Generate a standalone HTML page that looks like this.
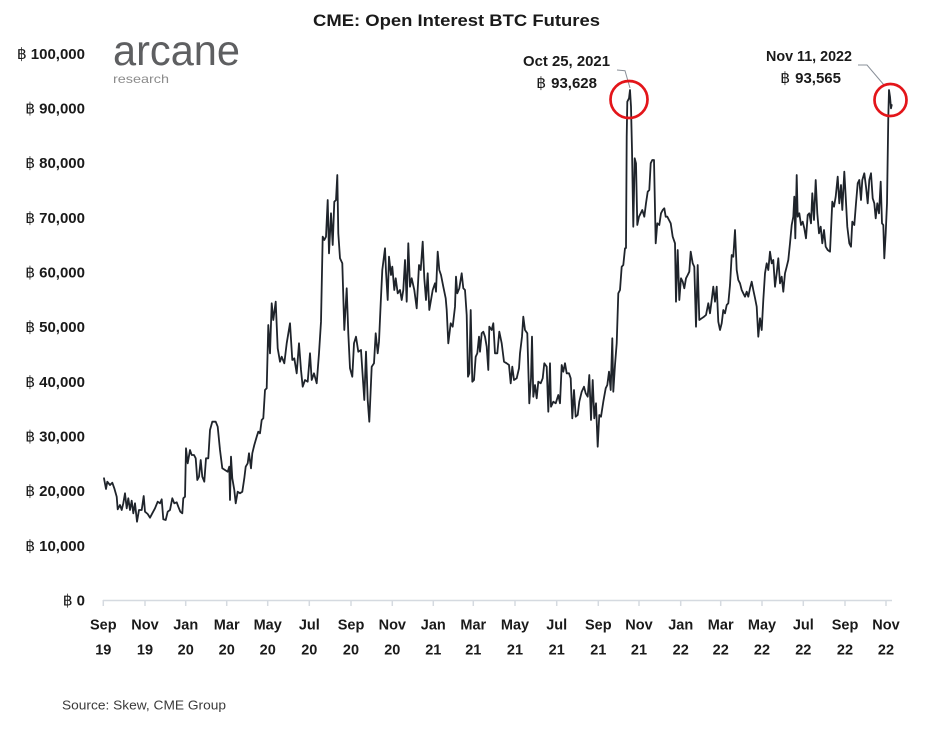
<!DOCTYPE html>
<html>
<head>
<meta charset="utf-8">
<style>
html,body{margin:0;padding:0;background:#fff;}
svg{display:block;}
text{font-family:"Liberation Sans","DejaVu Sans",sans-serif;}
</style>
</head>
<body>
<svg width="936" height="730" viewBox="0 0 936 730" xmlns="http://www.w3.org/2000/svg">
<rect width="936" height="730" fill="#fff"/>

<!-- Title -->
<text x="313" y="26" font-size="17" font-weight="bold" fill="#1a1a1a" textLength="287" lengthAdjust="spacingAndGlyphs">CME: Open Interest BTC Futures</text>

<!-- Logo -->
<text x="113" y="65" font-size="43" fill="#5e5f61" textLength="127" lengthAdjust="spacingAndGlyphs">arcane</text>
<text x="113" y="83" font-size="12" fill="#8c8c8c" textLength="56" lengthAdjust="spacingAndGlyphs">research</text>

<!-- Y axis labels -->
<g font-size="15" font-weight="bold" fill="#1a1a1a" text-anchor="end">
<text x="85" y="58.8"><tspan font-weight="normal" font-size="15.5">฿</tspan><tspan dx="4">100,000</tspan></text>
<text x="85" y="113.5"><tspan font-weight="normal" font-size="15.5">฿</tspan><tspan dx="4">90,000</tspan></text>
<text x="85" y="168.2"><tspan font-weight="normal" font-size="15.5">฿</tspan><tspan dx="4">80,000</tspan></text>
<text x="85" y="222.8"><tspan font-weight="normal" font-size="15.5">฿</tspan><tspan dx="4">70,000</tspan></text>
<text x="85" y="277.5"><tspan font-weight="normal" font-size="15.5">฿</tspan><tspan dx="4">60,000</tspan></text>
<text x="85" y="332.2"><tspan font-weight="normal" font-size="15.5">฿</tspan><tspan dx="4">50,000</tspan></text>
<text x="85" y="386.8"><tspan font-weight="normal" font-size="15.5">฿</tspan><tspan dx="4">40,000</tspan></text>
<text x="85" y="441.5"><tspan font-weight="normal" font-size="15.5">฿</tspan><tspan dx="4">30,000</tspan></text>
<text x="85" y="496.2"><tspan font-weight="normal" font-size="15.5">฿</tspan><tspan dx="4">20,000</tspan></text>
<text x="85" y="550.8"><tspan font-weight="normal" font-size="15.5">฿</tspan><tspan dx="4">10,000</tspan></text>
<text x="85" y="605.5"><tspan font-weight="normal" font-size="15.5">฿</tspan><tspan dx="4">0</tspan></text>
</g>

<!-- X axis -->
<line x1="103" y1="600.5" x2="892" y2="600.5" stroke="#d5dae0" stroke-width="1.5"/>
<g stroke="#d5dae0" stroke-width="1.5">
<line x1="103.3" y1="600" x2="103.3" y2="606"/>
<line x1="145" y1="600" x2="145" y2="606"/>
<line x1="185.7" y1="600" x2="185.7" y2="606"/>
<line x1="226.7" y1="600" x2="226.7" y2="606"/>
<line x1="267.7" y1="600" x2="267.7" y2="606"/>
<line x1="309.3" y1="600" x2="309.3" y2="606"/>
<line x1="351" y1="600" x2="351" y2="606"/>
<line x1="392.3" y1="600" x2="392.3" y2="606"/>
<line x1="433.3" y1="600" x2="433.3" y2="606"/>
<line x1="473.3" y1="600" x2="473.3" y2="606"/>
<line x1="515" y1="600" x2="515" y2="606"/>
<line x1="556.7" y1="600" x2="556.7" y2="606"/>
<line x1="598.3" y1="600" x2="598.3" y2="606"/>
<line x1="639" y1="600" x2="639" y2="606"/>
<line x1="680.7" y1="600" x2="680.7" y2="606"/>
<line x1="720.7" y1="600" x2="720.7" y2="606"/>
<line x1="762" y1="600" x2="762" y2="606"/>
<line x1="803.3" y1="600" x2="803.3" y2="606"/>
<line x1="845" y1="600" x2="845" y2="606"/>
<line x1="886" y1="600" x2="886" y2="606"/>
</g>
<g font-size="14.5" font-weight="bold" fill="#1a1a1a" text-anchor="middle">
<text x="103.3" y="629.5">Sep</text><text x="103.3" y="654.5">19</text>
<text x="145" y="629.5">Nov</text><text x="145" y="654.5">19</text>
<text x="185.7" y="629.5">Jan</text><text x="185.7" y="654.5">20</text>
<text x="226.7" y="629.5">Mar</text><text x="226.7" y="654.5">20</text>
<text x="267.7" y="629.5">May</text><text x="267.7" y="654.5">20</text>
<text x="309.3" y="629.5">Jul</text><text x="309.3" y="654.5">20</text>
<text x="351" y="629.5">Sep</text><text x="351" y="654.5">20</text>
<text x="392.3" y="629.5">Nov</text><text x="392.3" y="654.5">20</text>
<text x="433.3" y="629.5">Jan</text><text x="433.3" y="654.5">21</text>
<text x="473.3" y="629.5">Mar</text><text x="473.3" y="654.5">21</text>
<text x="515" y="629.5">May</text><text x="515" y="654.5">21</text>
<text x="556.7" y="629.5">Jul</text><text x="556.7" y="654.5">21</text>
<text x="598.3" y="629.5">Sep</text><text x="598.3" y="654.5">21</text>
<text x="639" y="629.5">Nov</text><text x="639" y="654.5">21</text>
<text x="680.7" y="629.5">Jan</text><text x="680.7" y="654.5">22</text>
<text x="720.7" y="629.5">Mar</text><text x="720.7" y="654.5">22</text>
<text x="762" y="629.5">May</text><text x="762" y="654.5">22</text>
<text x="803.3" y="629.5">Jul</text><text x="803.3" y="654.5">22</text>
<text x="845" y="629.5">Sep</text><text x="845" y="654.5">22</text>
<text x="886" y="629.5">Nov</text><text x="886" y="654.5">22</text>
</g>

<!-- Source -->
<text x="62" y="709.5" font-size="13" fill="#3a3a3a" textLength="164" lengthAdjust="spacingAndGlyphs">Source: Skew, CME Group</text>

<!-- Data line -->
<polyline fill="none" stroke="#1f242b" stroke-width="1.8" stroke-linejoin="round" stroke-linecap="round" points="
104,478.3 106,489 107.3,481.7 110,485 112.3,482.7 114.3,488.3 116.7,496.7 117.7,509.3 120,505 121.7,510 123.3,503.3 125,493.3 126.7,508.3 128.3,498.3 130,510 131.7,500.7 133.3,513.3 135,503.3 137,521.7 139,510 141.7,510 143.7,496 145,511.7 147.7,514 150,517.7 152.3,513.3 155,508.3 157.7,501.7 160,503.3 161.7,499.3 163.3,519.3 165.7,520 167.7,511.7 170,510 172.3,498.3 174.3,503.3 176.7,502.3 178.3,506.7 180.3,511.7 182.3,513.3 183.3,498.3 185,496.7 186,448.3 187.7,463.3 190,450 191.7,455 194,455 195.7,458.3 197.3,480 199,476.7 200.7,460 202.3,476.7 204.3,481.7 206,458.3 208.3,458.3 210,430 212.3,421.7 215.7,421.7 217.7,426.7 220,450 222.3,468.3 225,470 227.7,471.7 229.3,466.7 230,500 231,456.7 232.3,478.3 234.3,490 235.7,503.3 237.7,491.7 240,493.3 242.3,491.7 244.3,478.3 245.7,466.7 247.7,463.3 249,453.3 251,468.3 252.3,453.3 254.3,445 256.7,436.7 258.3,431.7 260,433.3 261.7,420 263.3,418.3 265,390 266.7,388.3 268.3,325 270,353.3 271.7,303.3 273.3,320 275.7,301.7 277.7,348.3 280,361.7 281.7,356.7 284.3,363.3 286.7,343.3 290,323.3 292.3,360 294.3,358.3 296.7,373.3 299,343.3 301,370 302.7,386.7 305,380 307.7,381.7 310,353.3 311.7,380 314,373.3 316.7,383.3 319,353.3 321,321.7 322.7,236.7 324.3,240 326,236.7 327.7,200 329,253.3 331,213.3 332.7,245 334.3,201.7 336,200 337.3,175 338.3,233.3 340,258.3 342.3,263.3 344.3,330 346.7,288.3 348.3,333.3 350,368.3 352.3,376.7 354,343.3 356,336.7 358.3,351.7 361,350 362.3,370 364.3,400 366,351.7 367.7,400 369.3,421.7 371.7,366.7 374,363.3 375.7,333.3 377.7,353.3 379,341.7 380.7,303.3 382.3,270 385,248.3 386,271.7 387.7,300 389,256.7 391,275 392.3,266.7 394.3,290 395.7,278.3 397.7,293.3 400,290 401.7,300 403.3,290 405,260 406.7,301.7 408.3,243.3 410,286.7 411.7,278.3 414.3,290 416.7,308.3 419,265 420.7,270 422.7,241.7 424.3,278.3 426,300 427.7,273.3 429.3,310 431,300 432.7,290 435,283.3 436,291.7 437.7,251.7 439.3,270 441,275 443.3,286.7 445.7,298.3 446.7,310 448.3,343.3 450.7,323.3 452.7,326.7 455,306.7 456,276.7 457.3,293.3 459.3,288.3 461.7,273.3 463.3,288.3 465,290 466.7,315 468,376.7 469.3,373.3 470.7,310 472.3,381.7 474,380 475.7,356.7 477.3,353.3 479,336.7 480,351.7 481.7,333.3 483.3,331.7 485,336.7 486.7,346.7 488.3,370 489.3,326.7 491.7,330 493.3,323.3 495,353.3 497.3,353.3 499.3,331.7 501.7,343.3 504,361.7 506.7,363.3 509,365 510.7,383.3 512.3,366.7 514,380 516.7,378.3 519,368.3 520,353.3 522,336.7 523.3,316.7 525,330 527.3,333.3 529.3,403.3 531,378.3 532,336.7 533.3,396.7 535,385 536.7,398.3 538.3,381.7 540.7,383.3 542.7,378.3 544.3,363.3 546.7,366.7 548.3,411.7 550,363.3 551,406.7 553.3,401.7 555.7,403.3 558.3,395 560,403.3 561.7,365 563.3,371.7 565,363.3 566.7,373.3 569,373.3 570.7,378.3 572.3,418.3 574,390 575.7,416.7 577.7,415 579.3,401.7 581.7,391.7 584,386.7 585.7,393.3 587.7,396.7 589.3,375 591,420 592.7,380 594.3,418.3 596,403.3 597.7,446.7 599.3,415 601,416.7 603.3,401.7 605.7,388.3 607.3,385 609,371.7 610.7,390 612.3,338.3 613.3,391.7 615,365 616.7,343.3 618.3,293.3 620,290 621.7,266.7 623.3,265 625,248.3 626,248 626.7,136.7 627.3,101.7 629,98.3 630,90 631,106.7 632,150 633.3,226.7 634.7,158.3 636,163.3 637.3,225 639,216.7 640.7,213.3 642.3,210 644.3,216.7 646,203.3 647.7,191.7 649.3,190 650.7,163.3 652.3,160 654,160 655.7,243.3 657.3,223.3 659.3,225 661,213.3 662.7,210 664.3,208.3 665.7,216.7 667.3,216.7 669,220 670.7,223.3 672.7,236.7 675,243.3 676,301.7 677.7,250 679.3,300 681,278.3 682.7,281.7 684.3,288.3 686,278.3 687.7,275 689.3,271.7 690.7,251.7 692.7,263.3 694.3,266.7 696,326.7 697.7,265 699.3,320 701.7,318.3 704,316.7 706,315 708.3,303.3 710,313.3 711.7,300 713.3,286.7 715,301.7 716.7,286.7 718.3,321.7 720,330 721.7,323.3 723.3,310 725,313.3 726.7,305 728.3,303.3 730,285 731.7,255 733.3,256.7 735,230 736.7,270 738.3,280 740,283.3 741.7,290 743.3,293.3 745,296.7 746.7,291.7 748.3,296.7 750,288.3 751.7,281.7 753.3,290 755,298 756.7,306.7 758.3,336.7 760,318.3 761.7,330 763.3,300 765,273.3 766.7,263.3 768.3,270 770,251.7 771.7,263.3 773.3,260 775,286.7 776.7,273.3 778.3,258.3 780,283.3 781.7,276.7 783.3,291.7 785,273.3 786.7,266.7 788.3,260 790,243.3 791.7,225 793.3,216.7 794.3,196.7 795.3,238.3 796.7,175 797.7,216.7 799.3,213.3 801,225 802.7,221.7 804.3,228.3 806,238.3 807.7,215 809.3,213.3 811,223.3 812.3,193.3 814,220 815.7,180 817.3,213.3 819,233.3 820.7,226.7 822.3,243.3 824,230 825.7,246.7 827.7,250 830,251.7 832.3,201.7 834,206.7 835.7,196.7 837.7,176.7 839.3,203.3 841,185 842.3,210 844.3,171.7 845.7,196.7 847.3,226.7 849.3,243.3 851,246.7 852.3,221.7 854.3,225 856,203.3 857.7,183.3 859.3,180 861,200 862.3,180 864.3,173.3 866,186.7 867.7,203.3 869.3,180 871,173.3 872.7,198.3 874.3,203.3 875.7,218.3 877.3,203.3 879,213.3 880.7,181.7 882,223.3 883.3,225 884.3,258.3 885.7,233.3 887,203.3 888.3,116.7 889,90 890,96.7 891,108.3 891.7,105"/>

<!-- Annotations -->
<polyline points="617,70 625,70.7 630,88" fill="none" stroke="#8a9099" stroke-width="1"/>
<polyline points="858,65 867,65 884,85" fill="none" stroke="#8a9099" stroke-width="1"/>
<circle cx="629" cy="99.5" r="18.5" fill="none" stroke="#e3151a" stroke-width="2.7"/>
<circle cx="890.5" cy="100" r="16" fill="none" stroke="#e3151a" stroke-width="2.7"/>

<g font-size="15" font-weight="bold" fill="#1a1a1a">
<text x="523" y="66" textLength="87" lengthAdjust="spacingAndGlyphs">Oct 25, 2021</text>
<text x="597" y="88" text-anchor="end"><tspan font-weight="normal" font-size="15.5">฿</tspan><tspan dx="5">93,628</tspan></text>
<text x="766" y="61" textLength="86" lengthAdjust="spacingAndGlyphs">Nov 11, 2022</text>
<text x="841" y="83" text-anchor="end"><tspan font-weight="normal" font-size="15.5">฿</tspan><tspan dx="5">93,565</tspan></text>
</g>
</svg>
</body>
</html>
